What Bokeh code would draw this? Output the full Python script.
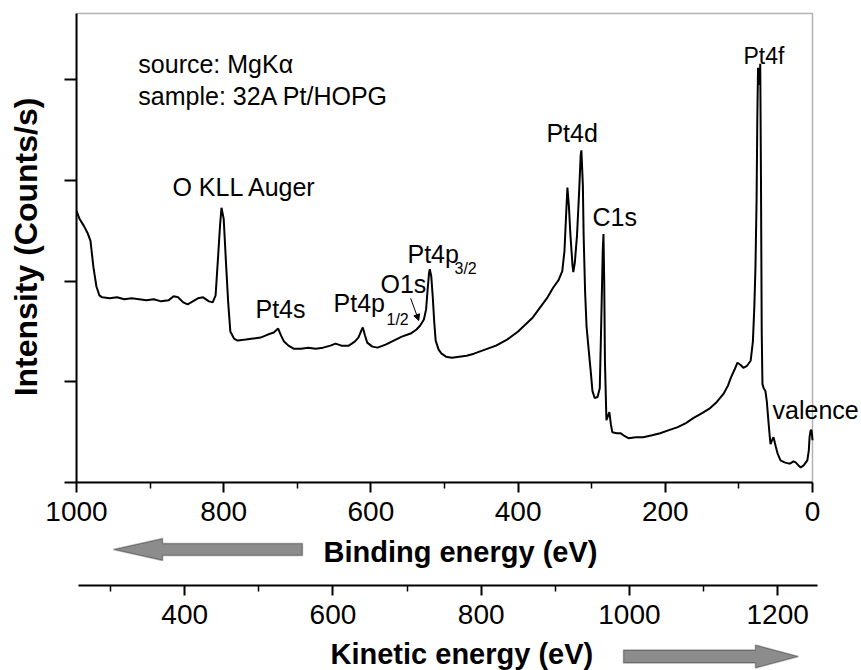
from bokeh.plotting import figure
from bokeh.models import (Range1d, FixedTicker, Label, PolyAnnotation, Arrow, NormalHead,
                          BoxAnnotation, LinearAxis, CustomLabelingPolicy)
from bokeh.layouts import column
from bokeh.embed import file_html
from bokeh.resources import INLINE

FONT = "Liberation Sans"

# ---------------- data ----------------
be = [1000, 996, 990, 985, 981, 977, 973, 969, 965, 955, 945, 935, 925, 915, 905, 895, 885, 875,
      868, 862, 855, 849, 842, 835, 828, 820, 815, 811, 808, 805, 803, 800, 797, 794, 791, 786,
      781, 770, 760, 750, 740, 732, 726, 722, 718, 712, 705, 695, 685, 675, 665, 655, 648, 640,
      630, 622, 617, 613, 611, 608, 605, 598, 591, 580, 569, 558, 546, 538, 533, 528, 525, 523,
      521, 520, 518, 516, 514, 512, 508, 504, 498, 490, 480, 470, 460, 445, 430, 415, 400, 390,
      380, 370, 360, 352, 345, 340, 337, 335, 333, 331, 329, 326, 325, 323, 320, 317, 315, 314,
      312, 311, 309, 307, 304, 301, 299, 296, 292, 289, 287, 285, 284, 283, 282, 280, 278, 276,
      274, 272, 266, 261, 255, 250, 240, 230, 218, 207, 195, 183, 172, 162, 150, 139, 130, 121,
      115, 111, 106, 102, 98, 94, 89, 84, 81, 79, 77.5, 76, 75, 74, 73, 72, 71, 70, 69, 68,
      66.5, 64, 62, 60, 58, 57, 55, 53, 50, 47.5, 43.5, 38, 33, 30, 26, 23, 19, 16, 12, 7, 5,
      4, 2.5, 1.4, 0.5, 0]
intensity = [2.70, 2.62, 2.55, 2.48, 2.40, 2.14, 1.95, 1.86, 1.84, 1.83, 1.84, 1.82, 1.83, 1.82,
             1.81, 1.82, 1.80, 1.81, 1.85, 1.84, 1.79, 1.77, 1.80, 1.83, 1.84, 1.80, 1.79, 1.86,
             2.20, 2.55, 2.73, 2.62, 2.20, 1.80, 1.50, 1.43, 1.41, 1.42, 1.43, 1.44, 1.47, 1.49,
             1.53, 1.46, 1.40, 1.36, 1.33, 1.33, 1.34, 1.33, 1.34, 1.36, 1.38, 1.36, 1.36, 1.40,
             1.44, 1.51, 1.54, 1.46, 1.39, 1.35, 1.34, 1.37, 1.41, 1.45, 1.48, 1.52, 1.56, 1.62,
             1.72, 1.91, 2.08, 2.12, 2.05, 1.85, 1.60, 1.41, 1.32, 1.28, 1.25, 1.24, 1.25, 1.26,
             1.28, 1.32, 1.36, 1.42, 1.50, 1.57, 1.64, 1.74, 1.84, 1.94, 2.01, 2.10, 2.30, 2.62,
             2.93, 2.75, 2.47, 2.15, 2.09, 2.18, 2.45, 2.90, 3.25, 3.30, 2.95, 2.47, 1.90, 1.55,
             1.31, 1.08, 0.91, 0.84, 0.85, 0.94, 1.60, 2.30, 2.47, 2.00, 1.20, 0.62, 0.66, 0.70,
             0.58, 0.50, 0.49, 0.49, 0.46, 0.44, 0.45, 0.45, 0.47, 0.49, 0.52, 0.55, 0.59, 0.64,
             0.69, 0.74, 0.80, 0.88, 0.96, 1.04, 1.12, 1.19, 1.17, 1.14, 1.16, 1.21, 1.40, 1.75,
             2.14, 2.80, 3.60, 4.12, 4.00, 3.95, 4.16, 3.00, 1.50, 0.98, 0.94, 0.91, 0.80, 0.62,
             0.45, 0.38, 0.42, 0.45, 0.36, 0.29, 0.22, 0.20, 0.19, 0.19, 0.21, 0.20, 0.17, 0.15,
             0.17, 0.22, 0.32, 0.45, 0.52, 0.52, 0.46, 0.42]

be_ticks = [0, 200, 400, 600, 800, 1000]
be_minor = [100, 300, 500, 700, 900]
ke_ticks = [400, 600, 800, 1000, 1200]
ke_minor = [300, 500, 700, 900, 1100]
int_ticks = [0, 1, 2, 3, 4]

peak_text = ["O KLL Auger", "Pt4s", "Pt4p", "O1s", "Pt4p", "Pt4d", "C1s", "Pt4f", "valence"]
peak_be = [869.6, 756.8, 650.8, 587.0, 550.3, 361.5, 298.9, 93.8, 54.3]
peak_int = [2.94, 1.72, 1.78, 1.97, 2.27, 3.47, 2.64, 4.24, 0.72]
peak_size = ["25px", "25px", "25px", "25px", "25px", "25px", "25px", "23px", "25px"]
sub_text = ["1/2", "3/2"]
sub_be = [578.8, 486.4]
sub_int = [1.62, 2.13]

info_text = ["source: MgK\u03b1", "sample: 32A Pt/HOPG"]
info_be = [916, 916]
info_int = [4.16, 3.84]

BE_RANGE = (1000, 0)
KE_START = 254.0          # kinetic energy at the left frame edge
KE_BOUNDS = (257, 1254)   # extent of the kinetic-energy axis line
INT_TOP = 4.66

W = 861
LEFT = 76
FRAME_W = W - LEFT
BE_PX = 736.0 / 1000.0    # pixels per eV on the binding axis
KE_PX = 0.7412            # pixels per eV on the kinetic axis
BE_END = BE_RANGE[0] - FRAME_W / BE_PX
KE_END = KE_START + FRAME_W / KE_PX


def style_bottom_axis(ax, ticks, minor, standoff, lw):
    ax.ticker = FixedTicker(ticks=ticks, minor_ticks=minor)
    ax.major_tick_in = 0
    ax.major_tick_out = 10
    ax.minor_tick_in = 0
    ax.minor_tick_out = 6
    ax.axis_line_width = lw
    ax.major_tick_line_width = 2
    ax.minor_tick_line_width = 1.5
    ax.major_label_text_font = FONT
    ax.major_label_text_font_size = "28px"
    ax.major_label_text_color = "black"
    ax.major_label_standoff = standoff


def plain(fig):
    fig.outline_line_color = None
    fig.background_fill_color = "white"
    fig.border_fill_color = "white"
    fig.grid.visible = False


# ---------------- main figure ----------------
p = figure(width=W, height=534, output_backend="svg", toolbar_location=None,
           x_range=Range1d(BE_RANGE[0], BE_END), y_range=Range1d(0, 471 / 100.64),
           min_border_left=LEFT, min_border_right=0, min_border_top=11, min_border_bottom=52)
plain(p)

p.line(be, intensity, line_color="black", line_width=2)

# frame border (top / right) of the data area
p.add_layout(BoxAnnotation(left=BE_RANGE[1], right=BE_RANGE[0], bottom=0, top=INT_TOP,
                           fill_alpha=0, line_color="black", line_width=1.5))

xa = p.xaxis[0]
style_bottom_axis(xa, be_ticks, be_minor, 9, 2)
xa.bounds = (BE_RANGE[1], BE_RANGE[0])

ya = p.yaxis[0]
ya.ticker = FixedTicker(ticks=int_ticks, minor_ticks=[])
ya.bounds = (0, INT_TOP)
ya.major_tick_in = 0
ya.major_tick_out = 12
ya.axis_line_width = 2
ya.major_tick_line_width = 2
ya.major_label_standoff = 0
ya.major_label_policy = CustomLabelingPolicy(code="""
    for (const i of indices) { indices.unset(i) }
    return indices
""")
ya.axis_label = "Intensity (Counts/s)"
ya.axis_label_text_font = FONT
ya.axis_label_text_font_style = "bold"
ya.axis_label_text_font_size = "32px"
ya.axis_label_text_color = "black"
ya.axis_label_standoff = 11

for t, x, y in zip(info_text, info_be, info_int):
    p.add_layout(Label(x=x, y=y, text=t, text_font=FONT, text_font_size="25px",
                       text_align="left", text_baseline="middle", text_color="black"))
for t, x, y, s in zip(peak_text, peak_be, peak_int, peak_size):
    p.add_layout(Label(x=x, y=y, text=t, text_font=FONT, text_font_size=s,
                       text_align="left", text_baseline="middle", text_color="black"))
for t, x, y in zip(sub_text, sub_be, sub_int):
    p.add_layout(Label(x=x, y=y, text=t, text_font=FONT, text_font_size="16px",
                       text_align="left", text_baseline="middle", text_color="black"))

# small arrow pointing at O1s
p.add_layout(Arrow(end=NormalHead(size=6, fill_color="black", line_color="black"),
                   x_start=546, y_start=1.83, x_end=535, y_end=1.61,
                   line_color="black", line_width=1))

# ---------------- binding-energy title + kinetic energy axis ----------------
p2 = figure(width=W, height=102, output_backend="svg", toolbar_location=None,
            x_range=Range1d(BE_RANGE[0], BE_END), y_range=Range1d(0, 51),
            x_axis_location=None, y_axis_location=None,
            min_border_left=LEFT, min_border_right=0, min_border_top=0, min_border_bottom=51)
plain(p2)
p2.extra_x_ranges = {"ke": Range1d(KE_START, KE_END)}
ka = LinearAxis(x_range_name="ke")
style_bottom_axis(ka, ke_ticks, ke_minor, 9, 2)
ka.bounds = KE_BOUNDS
p2.add_layout(ka, "below")

p2.add_layout(Label(x=664.4, y=34, text="Binding energy (eV)", text_font=FONT,
                    text_font_size="29px", text_font_style="bold", text_align="left",
                    text_baseline="middle", text_color="black"))
tip, base, tail, yc = 950, 883, 693, 36
hh, bh = 11, 6
p2.add_layout(PolyAnnotation(xs=[tip, base, base, tail, tail, base, base],
                             ys=[yc, yc + hh, yc + bh, yc + bh, yc - bh, yc - bh, yc - hh],
                             fill_color="#8c8c8c", fill_alpha=1, line_color="black",
                             line_width=1.5))

# ---------------- kinetic-energy title ----------------
p3 = figure(width=W, height=34, output_backend="svg", toolbar_location=None,
            x_range=Range1d(KE_START, KE_END), y_range=Range1d(0, 34),
            x_axis_location=None, y_axis_location=None,
            min_border_left=LEFT, min_border_right=0, min_border_top=0, min_border_bottom=0)
plain(p3)
p3.add_layout(Label(x=596.7, y=17, text="Kinetic energy (eV)", text_font=FONT,
                    text_font_size="29px", text_font_style="bold", text_align="left",
                    text_baseline="middle", text_color="black"))
k_tail, k_base, k_tip, k_y = 992, 1170, 1228, 14
k_hh, k_bh = 11.5, 6.5
p3.add_layout(PolyAnnotation(xs=[k_tip, k_base, k_base, k_tail, k_tail, k_base, k_base],
                             ys=[k_y, k_y + k_hh, k_y + k_bh, k_y + k_bh, k_y - k_bh, k_y - k_bh, k_y - k_hh],
                             fill_color="#8c8c8c", fill_alpha=1, line_color="black",
                             line_width=1.5))

layout = column(p, p2, p3, spacing=0)
open("out.html", "w").write(file_html(layout, INLINE))
